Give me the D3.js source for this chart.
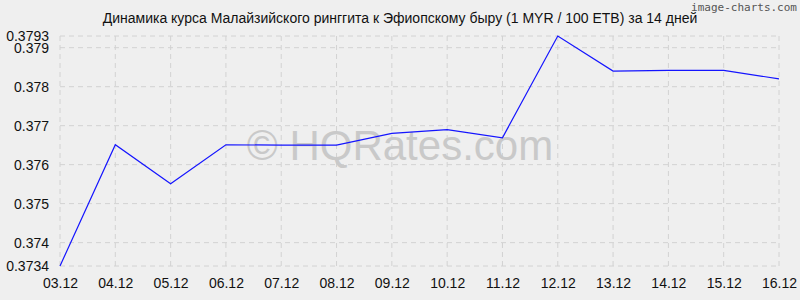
<!DOCTYPE html>
<html><head><meta charset="utf-8">
<script src="https://cdn.jsdelivr.net/npm/d3@7"></script>
<style>body{margin:0;background:#efefef}svg{display:block}</style>
</head><body>
<script>
const dates = ["03.12","04.12","05.12","06.12","07.12","08.12","09.12","10.12","11.12","12.12","13.12","14.12","15.12","16.12"];
const rates = [0.3734,0.37651,0.37551,0.37651,0.3765,0.3765,0.3768,0.3769,0.37669,0.3793,0.3784,0.37842,0.37842,0.3782];
const yTicks = [0.3734,0.374,0.375,0.376,0.377,0.378,0.379,0.3793];
const title = "Динамика курса Малайзийского ринггита к Эфиопскому быру (1 MYR / 100 ETB) за 14 дней";

const W=800,H=300;
const svg=d3.select("body").append("svg").attr("width",W).attr("height",H).style("font-family","'Liberation Sans',Arial,sans-serif");
svg.append("rect").attr("width",W).attr("height",H).attr("fill","#efefef");
const x=d3.scalePoint().domain(dates).range([60,779]);
const y=d3.scaleLinear().domain([0.3734,0.3793]).range([266,36]);

// grid
svg.append("g").selectAll("line").data(dates).join("line")
  .attr("x1",d=>x(d)).attr("x2",d=>x(d)).attr("y1",36).attr("y2",266)
  .attr("stroke","#d2d2d2").attr("stroke-dasharray","5,4");
svg.append("g").selectAll("line").data(yTicks).join("line")
  .attr("x1",60).attr("x2",779).attr("y1",d=>y(d)).attr("y2",d=>y(d))
  .attr("stroke","#d2d2d2").attr("stroke-dasharray","5,4");

// watermark
svg.append("text").attr("x",400).attr("y",160).attr("text-anchor","middle")
  .attr("font-size",42).attr("fill","#c9c9c9").text("© HQRates.com");

// axes
const ya=svg.append("g").attr("transform","translate(60,0)")
  .call(d3.axisLeft(y).tickValues(yTicks).tickFormat(d=>String(+d.toFixed(4))).tickSize(0).tickPadding(11));
ya.select(".domain").remove();
ya.selectAll("text").attr("font-size",14).attr("fill","#111").attr("font-family","'Liberation Sans',Arial,sans-serif");
const xa=svg.append("g").attr("transform","translate(0,266)")
  .call(d3.axisBottom(x).tickSize(0).tickPadding(12));
xa.select(".domain").remove();
xa.selectAll("text").attr("font-size",14).attr("fill","#111").attr("font-family","'Liberation Sans',Arial,sans-serif");

// line
svg.append("path").datum(dates.map((d,i)=>[d,rates[i]]))
  .attr("fill","none").attr("stroke","#1414ff").attr("stroke-width",1.2)
  .attr("d",d3.line().x(d=>x(d[0])).y(d=>y(d[1])));

// title
svg.append("text").attr("x",400).attr("y",23).attr("text-anchor","middle")
  .attr("font-size",14).attr("fill","#111").text(title);
svg.append("text").attr("x",797).attr("y",11).attr("text-anchor","end")
  .attr("font-size",11).attr("fill","#555").attr("font-family","'DejaVu Sans Mono',monospace").text("image-charts.com");
</script>
</body></html>
